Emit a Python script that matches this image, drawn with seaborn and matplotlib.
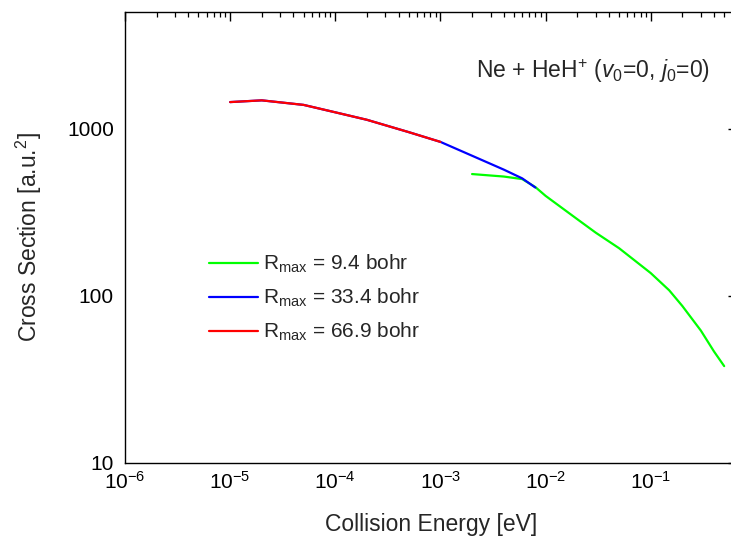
import numpy as np
import pandas as pd
import seaborn as sns
import matplotlib
matplotlib.use("Agg")
import matplotlib.pyplot as plt
from matplotlib.ticker import FuncFormatter, LogLocator

# data (energy in eV, cross section in a.u.^2)
e_short = [2e-3, 4e-3, 6e-3, 8e-3, 1e-2, 2e-2, 3e-2, 5e-2, 8e-2, 0.1, 0.15, 0.2, 0.3, 0.4, 0.5]
s_short = [536, 518, 500, 448, 397, 288, 239, 193, 153, 137, 108, 87, 62, 46.5, 38]

e_mid = [1e-5, 2e-5, 5e-5, 1e-4, 2e-4, 5e-4, 1e-3, 2e-3, 4e-3, 6e-3, 8e-3]
s_mid = [1445, 1480, 1390, 1255, 1132, 955, 835, 690, 570, 505, 445]

e_long = [1e-5, 2e-5, 5e-5, 1e-4, 2e-4, 5e-4, 1e-3]
s_long = [1445, 1480, 1390, 1255, 1132, 955, 835]

labels = [r"R$_{\mathrm{max}}$ = 9.4 bohr",
          r"R$_{\mathrm{max}}$ = 33.4 bohr",
          r"R$_{\mathrm{max}}$ = 66.9 bohr"]
colors = ["#00ff00", "#0000ff", "#ff0000"]

df = pd.concat([
    pd.DataFrame({"E": e_short, "sigma": s_short, "run": labels[0]}),
    pd.DataFrame({"E": e_mid, "sigma": s_mid, "run": labels[1]}),
    pd.DataFrame({"E": e_long, "sigma": s_long, "run": labels[2]}),
])

sns.set_style("white")
plt.rcParams["font.family"] = ["Liberation Sans", "DejaVu Sans"]
plt.rcParams["mathtext.fontset"] = "custom"
plt.rcParams["mathtext.rm"] = "Liberation Sans"
plt.rcParams["mathtext.it"] = "Liberation Sans:italic"
plt.rcParams["mathtext.bf"] = "Liberation Sans:bold"
plt.rcParams["axes.unicode_minus"] = False

fig = plt.figure(figsize=(7.31, 5.43), dpi=100)
ax = fig.add_axes([125 / 731, 80 / 543, 612 / 731, 451 / 543])

sns.lineplot(data=df, x="E", y="sigma", hue="run", palette=dict(zip(labels, colors)),
             estimator=None, sort=False, linewidth=1.6, ax=ax)

ax.set_xscale("log")
ax.set_yscale("log")
ax.set_xlim(1e-6, 0.662)
ax.set_ylim(10, 5000)

ax.xaxis.set_major_locator(LogLocator(base=10, numticks=12))
ax.xaxis.set_minor_locator(LogLocator(base=10, subs=np.arange(2, 10), numticks=12))
ax.yaxis.set_major_formatter(FuncFormatter(lambda v, p: "%d" % v))

for sp in ax.spines.values():
    sp.set_linewidth(1.0)
    sp.set_color("black")
ax.tick_params(which="both", direction="in", top=True, right=True, labelsize=15, colors="black")
ax.tick_params(which="major", length=6.5, width=1.0)
ax.tick_params(which="minor", length=3.6, width=0.9)
ax.tick_params(axis="x", pad=6)
ax.tick_params(axis="y", pad=8)

ax.set_xlabel("Collision Energy [eV]", fontsize=16.5)
ax.set_ylabel(r"Cross Section [a.u.$^2$]", fontsize=16.5)
ax.xaxis.set_label_coords(0.5, -0.11)
ax.yaxis.set_label_coords(-0.132, 0.5)

ax.text(0.765, 0.868, r"Ne + HeH$^{+}$ ($v_0$=0, $j_0$=0)", transform=ax.transAxes,
        ha="center", va="center", fontsize=16.5)

ax.legend(loc="upper left", bbox_to_anchor=(0.137, 0.466), frameon=False, fontsize=15,
          borderpad=0, borderaxespad=0, handlelength=2.35, handletextpad=0.25,
          labelspacing=0.57)

fig.savefig("out.png", dpi=100)
